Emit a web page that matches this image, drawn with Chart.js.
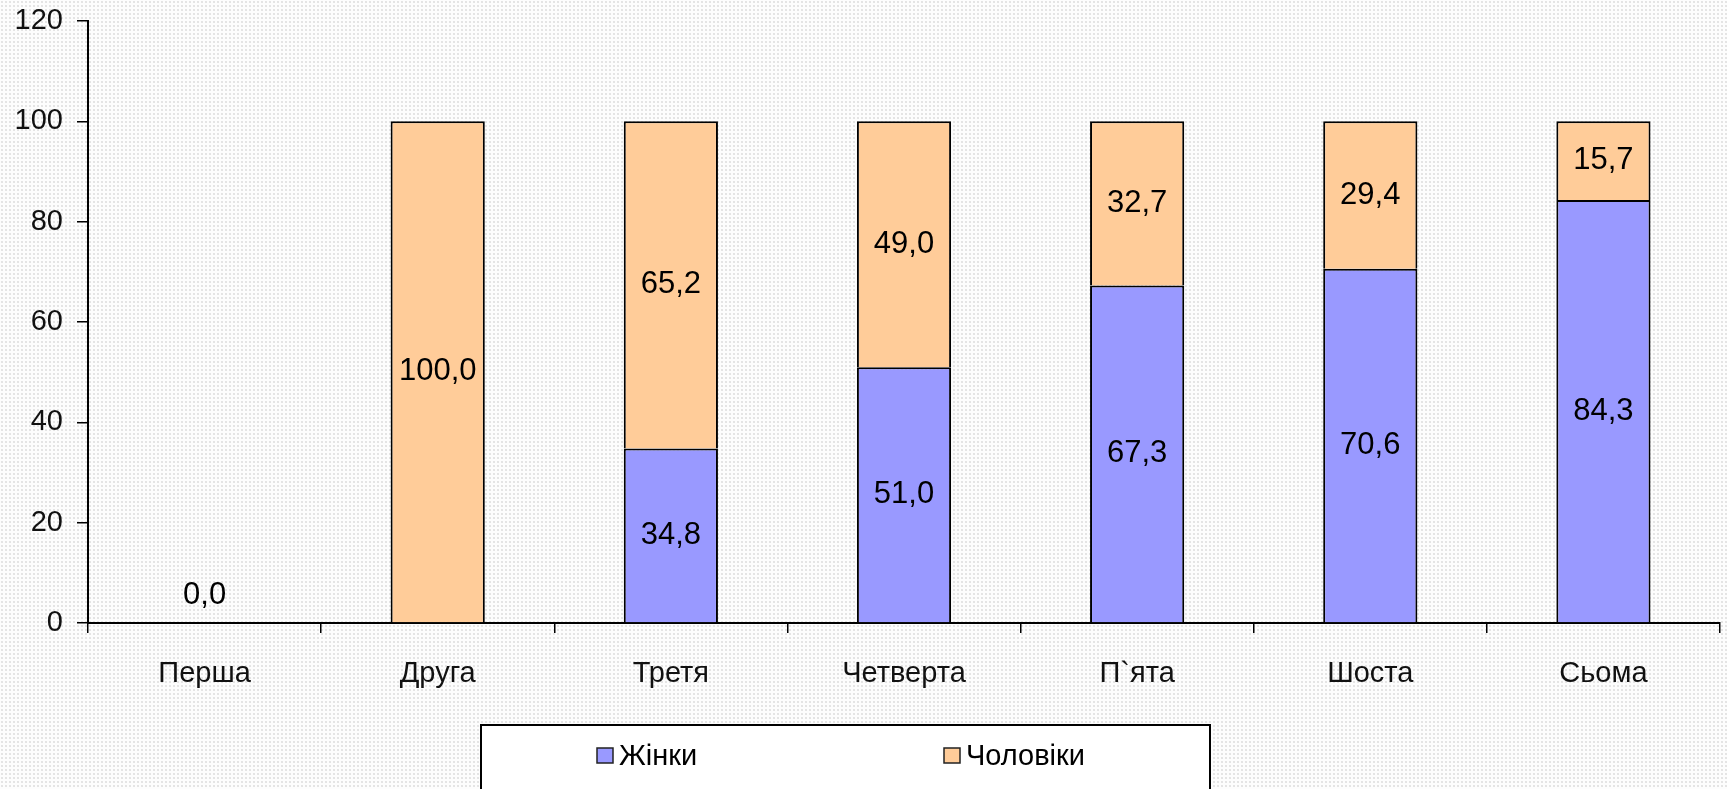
<!DOCTYPE html>
<html>
<head>
<meta charset="utf-8">
<script src="https://cdn.jsdelivr.net/npm/chart.js@4"></script>
<style>
  html, body { margin: 0; padding: 0; }
  body {
    width: 1727px; height: 789px; overflow: hidden;
    background-color: #fdfdfd;
    background-image: radial-gradient(#e4e4e4 0.7px, transparent 1px);
    background-size: 4px 4px;
  }
  #wrap { position: relative; width: 1727px; height: 789px; }
</style>
</head>
<body>
<div id="wrap"><canvas id="Chart1" width="1727" height="789"></canvas></div>
<script>
// categories and values
const categories = ['Перша', 'Друга', 'Третя', 'Четверта', 'П`ята', 'Шоста', 'Сьома'];
const zhinky = [0, null, 34.8, 51.0, 67.3, 70.6, 84.3];
const cholovik = [null, 100.0, 65.2, 49.0, 32.7, 29.4, 15.7];
const yTicks = [0, 20, 40, 60, 80, 100, 120];

const fontFamily = '"Liberation Sans", Arial, sans-serif';

// value labels in the middle of each bar segment, with comma decimals
const valueLabels = {
  id: 'valueLabels',
  afterDatasetsDraw(chart) {
    const ctx = chart.ctx;
    ctx.save();
    ctx.font = '31px ' + fontFamily;
    ctx.fillStyle = '#000';
    ctx.textAlign = 'center';
    ctx.textBaseline = 'middle';
    chart.data.datasets.forEach((ds, di) => {
      chart.getDatasetMeta(di).data.forEach((bar, i) => {
        const v = ds.data[i];
        if (v === null || v === undefined) return;
        let y = (bar.y + bar.base) / 2;
        if (Math.abs(bar.base - bar.y) < 40) y = bar.base - 28;
        ctx.fillText(v.toFixed(1).replace('.', ','), bar.x, y);
      });
    });
    ctx.restore();
  }
};

// boxed legend under the chart, like the Excel original
const boxLegend = {
  id: 'boxLegend',
  afterDraw(chart) {
    const ctx = chart.ctx;
    const left = 481, top = 725, right = 1210;
    ctx.save();
    ctx.fillStyle = '#fff';
    ctx.fillRect(left, top, right - left, 80);
    ctx.strokeStyle = '#000';
    ctx.lineWidth = 2;
    ctx.beginPath();
    ctx.moveTo(left, 800);
    ctx.lineTo(left, top);
    ctx.lineTo(right, top);
    ctx.lineTo(right, 800);
    ctx.stroke();
    const itemX = [597, 944];
    ctx.font = '29px ' + fontFamily;
    ctx.textBaseline = 'middle';
    ctx.textAlign = 'left';
    chart.data.datasets.forEach((ds, di) => {
      const x = itemX[di];
      ctx.fillStyle = ds.backgroundColor;
      ctx.fillRect(x, 748, 16, 15);
      ctx.lineWidth = 1.5;
      ctx.strokeStyle = '#222';
      ctx.strokeRect(x, 748, 16, 15);
      ctx.fillStyle = '#000';
      ctx.fillText(ds.label, x + 22, 757);
    });
    ctx.restore();
  }
};

const ctx = document.getElementById('Chart1').getContext('2d');
const myChart = new Chart(ctx, {
  type: 'bar',
  data: {
    labels: categories,
    datasets: [
      {
        label: 'Жінки',
        data: zhinky,
        backgroundColor: '#9999FF',
        borderColor: '#000',
        borderWidth: 2,
        categoryPercentage: 0.404,
        barPercentage: 1
      },
      {
        label: 'Чоловіки',
        data: cholovik,
        backgroundColor: '#FFCC99',
        borderColor: '#000',
        borderWidth: 2,
        categoryPercentage: 0.404,
        barPercentage: 1
      }
    ]
  },
  options: {
    responsive: false,
    animation: false,
    devicePixelRatio: 1,
    layout: { padding: { top: 21, right: 7, bottom: 0, left: 0 } },
    plugins: {
      legend: { display: false },
      tooltip: { enabled: false }
    },
    scales: {
      x: {
        stacked: true,
        afterFit: function(scale) {
          scale.height = 166;
          scale.paddingLeft = 0;
          scale.paddingRight = 0;
        },
        border: { color: '#000', width: 2 },
        grid: {
          offset: true,
          drawOnChartArea: false,
          color: '#000',
          lineWidth: 1.5,
          tickLength: 10
        },
        ticks: {
          color: '#111',
          padding: 24,
          maxRotation: 0,
          font: { family: fontFamily, size: 29 }
        }
      },
      y: {
        stacked: true,
        min: 0,
        max: 120,
        afterFit: function(scale) {
          scale.width = 88;
          scale.paddingTop = 0;
          scale.paddingBottom = 0;
        },
        afterBuildTicks: function(scale) {
          scale.ticks = yTicks.map(v => ({ value: v }));
        },
        border: { color: '#000', width: 2 },
        grid: {
          drawOnChartArea: false,
          color: '#000',
          lineWidth: 1.5,
          tickLength: 11
        },
        ticks: {
          color: '#111',
          padding: 14,
          font: { family: fontFamily, size: 29 }
        }
      }
    }
  },
  plugins: [valueLabels, boxLegend]
});
</script>
</body>
</html>
